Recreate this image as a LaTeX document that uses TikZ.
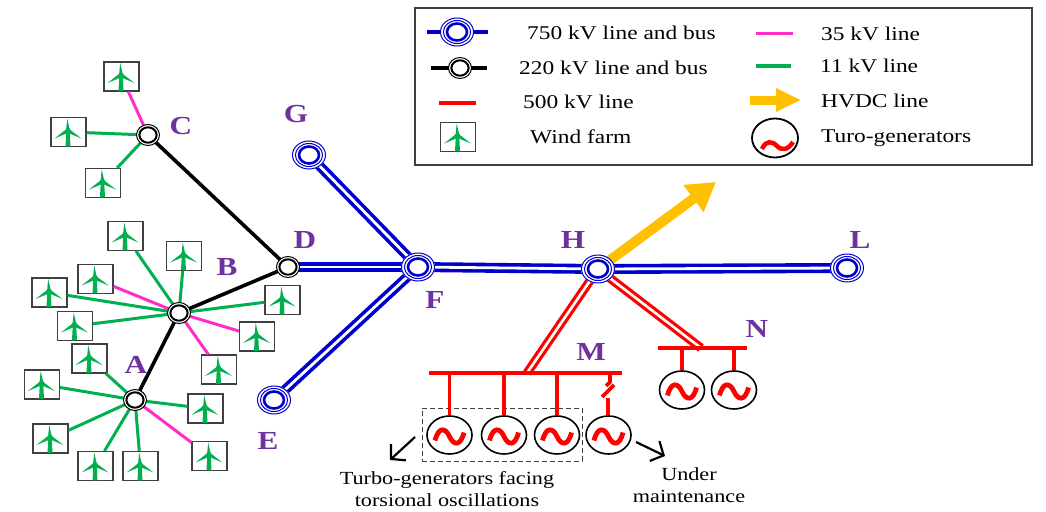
\documentclass[tikz,border=0pt]{standalone}
\usepackage{fontspec}
\setmainfont{Liberation Serif}[FakeStretch=1.2]
\usetikzlibrary{arrows.meta,shapes.geometric}
\definecolor{bl}{RGB}{0,0,204}
\definecolor{gr}{RGB}{0,176,80}
\definecolor{mg}{RGB}{255,45,200}
\definecolor{pu}{RGB}{112,48,160}
\definecolor{hv}{RGB}{255,192,0}
\definecolor{rd}{RGB}{255,0,0}
\definecolor{lbox}{RGB}{64,64,64}
\newcommand\wfarm[2]{\node[wf] (#1) at (#2) {}; \pic at (#2) {turb};}
\begin{document}
\begin{tikzpicture}[x=1pt,y=-1pt,
  wf/.style={rectangle,draw=black!75,line width=1.1,fill=white,minimum width=35,minimum height=29,inner sep=0},
  turb/.pic={
    \fill[gr] (-2.2,-1) -- (1.2,-1) -- (2,14.3) -- (-3,14.3) -- cycle;
    \fill[gr] (-2.4,-2) -- (1.2,-2.5) -- (-1.3,-13.5) -- cycle;
    \fill[gr] (-1.5,-3.3) -- (0.2,0.6) -- (-14,6.5) -- cycle;
    \fill[gr] (0.2,-3.3) -- (-1.2,0.6) -- (13,6.5) -- cycle;
    \fill[gr] (-0.5,-1.5) circle (2.6);
  },
  bfs/.pic={
    \fill[white] (0,0) ellipse (17 and 14.5);
    \draw[bl,line width=1] (0,0) ellipse (16.5 and 14);
    \draw[bl,line width=1] (0,0) ellipse (13.6 and 11.5);
    \draw[bl,line width=2.6] (0,0) ellipse (10 and 8.5);
  },
  bts/.pic={
    \fill[white] (0,0) ellipse (11.5 and 10.5);
    \draw[black,line width=1] (0,0) ellipse (11.5 and 10.5);
    \draw[black,line width=2] (0,0) ellipse (8.6 and 7.7);
  },
  tld/.pic={
    \draw[rd,line width=4.8] (-14.5,4) .. controls (-11,-10) and (-4,-9) .. (0,0) .. controls (4,9) and (11,10) .. (14.5,-4);
  },
  g11/.style={draw=gr,line width=3},
  m35/.style={draw=mg,line width=3},
  k220/.style={draw=black,line width=3.6},
  b750/.style={draw=bl,line width=3.6,double=white,double distance=2.8},
  r500/.style={draw=rd,line width=3.2,double=white,double distance=2.6},
  rbus/.style={draw=rd,line width=4},
  rfeed/.style={draw=rd,line width=3.6},
  hvdc/.style={draw=hv,line width=10,-{Triangle[length=28pt,width=32pt]}},
  gen/.style={ellipse,draw=black,line width=1.6,minimum width=45,minimum height=38,inner sep=0,fill=white},
  lab/.style={text=pu,font=\fontsize{26}{26}\selectfont\bfseries,inner sep=0},
  txt/.style={font=\fontsize{18.5}{22}\selectfont,inner sep=0},
  ltxt/.style={font=\fontsize{19.5}{22}\selectfont,inner sep=0,anchor=west},
  opar/.style={draw=black,line width=2.2,-{Straight Barb[length=10pt,width=22pt]}},
]
\useasboundingbox (0,0) rectangle (1046,511);

% ---------------- legend ----------------
\draw[lbox,line width=2] (415,8) rectangle (1032,165);
\coordinate (l1a) at (427,32); \coordinate (l1b) at (488,32);
\draw[draw=bl,line width=4] (l1a) -- (l1b);
\pic at (457,32) {bfs};
\node[ltxt] (t750) at (527,33) {750 kV line and bus};
\coordinate (l2a) at (431,68); \coordinate (l2b) at (487,68);
\draw[k220] (l2a) -- (l2b);
\pic at (460,68) {bts};
\node[ltxt] (t220) at (519,68) {220 kV line and bus};
\coordinate (l3a) at (439,103); \coordinate (l3b) at (476,103);
\draw[rbus] (l3a) -- (l3b);
\node[ltxt] (t500) at (523,102) {500 kV line};
\wfarm{lwf}{458,137}
\node[ltxt] (twf) at (530,137) {Wind farm};
\coordinate (l5a) at (756,34); \coordinate (l5b) at (793,34);
\draw[m35] (l5a) -- (l5b);
\node[ltxt] (t35) at (821,34) {35 kV line};
\coordinate (l6a) at (756,66); \coordinate (l6b) at (791,66);
\draw[g11] (l6a) -- (l6b);
\node[ltxt] (t11) at (820,66) {11 kV line};
\coordinate (l7a) at (750,100); \coordinate (l7b) at (801,100);
\draw[draw=hv,line width=9,-{Triangle[length=25pt,width=22pt]}] (l7a) -- (l7b);
\node[ltxt] (thv) at (821,101) {HVDC line};
\node[ellipse,draw=black,line width=1.8,minimum width=46,minimum height=39,inner sep=0] (lgen) at (775,138) {};
\draw[rd,line width=4.5] (762,149) .. controls (766,140) and (772,141) .. (777,146) .. controls (782,151) and (788,150) .. (793,142);
\node[ltxt] (ttg) at (821,138) {Turo-generators};

% ---------------- bus coordinates ----------------
\coordinate (C) at (148,135);
\coordinate (B) at (179,313);
\coordinate (A) at (135,400);
\coordinate (D) at (288,267);
\coordinate (G) at (309,155);
\coordinate (F) at (418,267);
\coordinate (E) at (274,400);
\coordinate (H) at (598,269);
\coordinate (L) at (847,268);

% ---------------- wind farms ----------------
\wfarm{wC1}{121.5,76.5}
\wfarm{wC2}{68.5,132}
\wfarm{wC3}{103,183}
\wfarm{wB1}{125.5,236}
\wfarm{wB2}{184,256}
\wfarm{wB3}{95.5,279}
\wfarm{wB4}{49.5,292.5}
\wfarm{wB5}{75,326}
\wfarm{wB6}{282.5,300}
\wfarm{wB7}{257,336.5}
\wfarm{wB8}{219,369.5}
\wfarm{wA1}{89.5,358.5}
\wfarm{wA2}{42,384.5}
\wfarm{wA3}{50.5,438.5}
\wfarm{wA4}{95.5,466}
\wfarm{wA5}{140.5,466}
\wfarm{wA6}{205.5,408.5}
\wfarm{wA7}{209.5,456}

\draw[m35] (C) -- (wC1);
\draw[g11] (C) -- (wC2);
\draw[g11] (C) -- (wC3);
\draw[g11] (B) -- (wB1);
\draw[g11] (B) -- (wB2);
\draw[m35] (B) -- (wB3);
\draw[g11] (B) -- (wB4);
\draw[g11] (B) -- (wB5);
\draw[g11] (B) -- (wB6);
\draw[m35] (B) -- (wB7);
\draw[m35] (B) -- (wB8);
\draw[g11] (A) -- (wA1);
\draw[g11] (A) -- (wA2);
\draw[g11] (A) -- (wA3);
\draw[g11] (A) -- (wA4);
\draw[g11] (A) -- (wA5);
\draw[g11] (A) -- (wA6);
\draw[m35] (A) -- (wA7);

% ---------------- 220 kV ----------------
\draw[k220] (C) -- (D);
\draw[k220] (B) -- (D);
\draw[k220] (A) -- (B);

% ---------------- 750 kV ----------------
\draw[b750] (D) -- (F);
\draw[b750] (G) -- (F);
\draw[b750] (E) -- (F);
\draw[b750] (F) -- (H);
\draw[b750] (H) -- (L);

% ---------------- HVDC ----------------
\coordinate (hvT) at (716,182);
\draw[hvdc] (H) -- (hvT);

% ---------------- 500 kV ----------------
\coordinate (Mw) at (429,373); \coordinate (Me) at (622,373); \coordinate (Mj) at (527,373);
\coordinate (Nw) at (658,348); \coordinate (Ne) at (747,348); \coordinate (Nj) at (701,348);
\draw[r500] (H) -- (Mj);
\draw[r500] (H) -- (Nj);
\draw[rbus] (Mw) -- (Me);
\draw[rbus] (Nw) -- (Ne);

% ---------------- buses ----------------
\foreach \p in {C,B,A,D} {\pic at (\p) {bts};}
\foreach \p in {G,F,E,H,L} {\pic at (\p) {bfs};}

% ---------------- generators ----------------
\node[draw=black!75,dashed,dash pattern=on 5pt off 3pt,line width=1,minimum width=160,minimum height=53,inner sep=0] (tbox) at (502,434.5) {};
\node[gen] (g1) at (449.5,435) {};
\node[gen] (g2) at (504,435) {};
\node[gen] (g3) at (557,435) {};
\node[gen] (g4) at (608.5,435) {};
\node[gen] (n1) at (682,390) {};
\node[gen] (n2) at (734,390) {};
\foreach \g in {g1,g2,g3,g4,n1,n2} {\pic at ([yshift=-1.5pt]\g.center) {tld};}
\draw[rfeed] (g1.north |- Mw) -- (g1.north);
\draw[rfeed] (g2.north |- Mw) -- (g2.north);
\draw[rfeed] (g3.north |- Mw) -- (g3.north);
\draw[rfeed] (n1.north |- Nw) -- (n1.north);
\draw[rfeed] (n2.north |- Nw) -- (n2.north);
% breaker on 4th feeder
\coordinate (k1) at (610,373); \coordinate (k2) at (610,382);
\coordinate (k2b) at (606,386);
\coordinate (k3) at (602,397); \coordinate (k4) at (614,385);
\coordinate (k5) at (608,398);
\draw[rfeed] (k1) -- (k2) -- (k2b);
\draw[rfeed] (k3) -- (k4);
\draw[rfeed] (k5) -- (k5 |- g4.north);

% ---------------- notes ----------------
\coordinate (a1s) at (415,437); \coordinate (a1e) at (390,460);
\draw[opar] (a1s) -- (a1e);
\coordinate (a2s) at (636,442); \coordinate (a2e) at (665,456);
\draw[opar] (a2s) -- (a2e);
\node[txt,align=center] (ttxt) at (447,489) {Turbo-generators facing\\torsional oscillations};
\node[txt,align=center] (utxt) at (689,485) {Under\\maintenance};

% ---------------- labels ----------------
\node[lab] at (181,126) {C};
\node[lab] at (296,114) {G};
\node[lab] at (305,240) {D};
\node[lab] at (435,300) {F};
\node[lab] at (573,240) {H};
\node[lab] at (860,240) {L};
\node[lab] at (757,329) {N};
\node[lab] at (591,352) {M};
\node[lab] at (227,267) {B};
\node[lab] at (136,365) {A};
\node[lab] at (268,441) {E};
\end{tikzpicture}
\end{document}
